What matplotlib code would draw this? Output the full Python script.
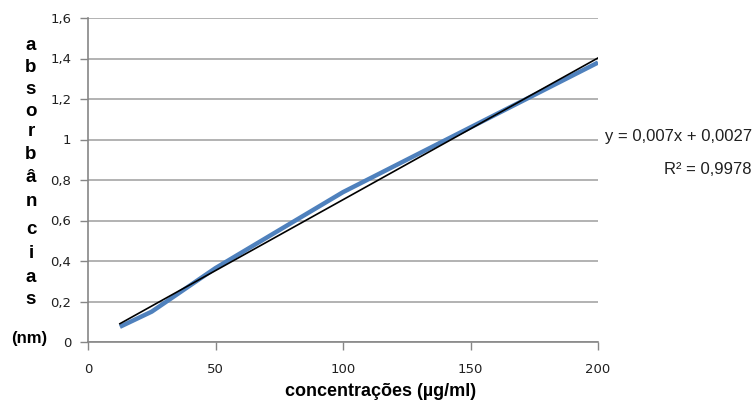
import matplotlib.pyplot as plt
import numpy as np

# dados
conc = [12.5, 25, 50, 100, 200]
absorb = [0.075, 0.15, 0.365, 0.74, 1.38]
slope = 0.007
intercept = 0.0027
yticks = [0, 0.2, 0.4, 0.6, 0.8, 1, 1.2, 1.4, 1.6]
ytick_labels = ['0', '0,2', '0,4', '0,6', '0,8', '1', '1,2', '1,4', '1,6']
xticks = [0, 50, 100, 150, 200]

fig = plt.figure(figsize=(7.53, 4.03), dpi=100)
ax = fig.add_axes([88/753, 1-342/403, 510/753, 324/403])

ax.plot(conc, absorb, color='#4f81bd', lw=3.2, solid_capstyle='butt', zorder=3)
xt = np.array([conc[0], conc[-1]])
ax.plot(xt, slope*xt + intercept, color='black', lw=1.2, zorder=4)

ax.set_xlim(0, 200)
ax.set_ylim(0, 1.6)
ax.set_yticks(yticks)
ax.set_yticklabels(ytick_labels)
ax.set_xticks(xticks)
ax.yaxis.grid(True, color='#a6a6a6', lw=1.2)
ax.set_axisbelow(True)
for s in ['top', 'right']:
	ax.spines[s].set_visible(False)
for s in ['left', 'bottom']:
	ax.spines[s].set_color('#868686')
	ax.spines[s].set_linewidth(1.2)
ax.tick_params(axis='both', direction='out', length=6, width=1, color='#868686',
	labelsize=9.5, labelcolor='#202020')
ax.tick_params(axis='y', pad=6)
ax.tick_params(axis='x', pad=9)

ax.set_xlabel('concentrações (µg/ml)', fontsize=13, fontweight='bold',
	family='Liberation Sans')
ax.xaxis.set_label_coords((381-88)/510, -(392-342)/324)
ax.xaxis.label.set_va('center')

# rotulo vertical letra a letra
letras = ['a', 'b', 's', 'o', 'r', 'b', 'â', 'n', 'c', 'i', 'a', 's']
ypix = [45, 68, 89, 111, 132, 154, 178, 202, 229, 254, 277, 300]
for l, yp in zip(letras, ypix):
	fig.text(31/753, 1-yp/403, l, fontsize=13.5, fontweight='bold', ha='center', va='center',
		family='Liberation Sans')
fig.text(29/753, 1-338/403, '(nm)', fontsize=12, fontweight='bold', ha='center', va='center',
	family='Liberation Sans')

fig.text(752/753, 1-137/403, 'y = 0,007x + 0,0027', fontsize=12, ha='right', va='center',
	color='#202020', family='Liberation Sans')
fig.text(752/753, 1-170/403, 'R² = 0,9978', fontsize=12, ha='right', va='center',
	color='#202020', family='Liberation Sans')

plt.savefig('out.png', dpi=100)
